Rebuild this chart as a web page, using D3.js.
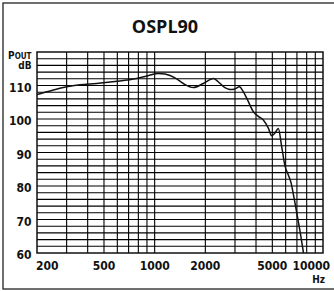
<!DOCTYPE html>
<html>
<head>
<meta charset="utf-8">
<script src="https://cdn.jsdelivr.net/npm/d3@7"></script>
<style>
  body { margin: 0; background: #fff; }
  svg text { font-family: "Liberation Sans Narrow", "DejaVu Sans Condensed", sans-serif; font-weight: bold; fill: #111; }
</style>
</head>
<body>
<svg id="chart"></svg>
<script>
// curve: frequency (Hz) and output level (dB)
const freqs = [200, 245, 300, 360, 452, 581, 782, 913, 1051, 1152, 1321, 1479, 1701, 1945,
  2237, 2377, 2557, 2803, 2961, 3192, 3348, 3561, 3855, 4128, 4421, 4734, 4960, 5187,
  5427, 5685, 5945, 6197, 6456, 6726, 7009, 7302, 7659];
const levels = [107.3, 108.5, 109.6, 110.2, 110.6, 111.2, 112.1, 112.9, 113.6, 113.4, 112.3, 110.6, 109.4, 110.6,
  112.1, 111.2, 109.7, 108.8, 108.9, 109.6, 108.3, 105.7, 102.2, 100.8, 99.7, 97.3, 95.0, 95.8,
  97.2, 91.7, 86.0, 83.5, 81.0, 76.5, 71.5, 66.5, 60];

const xTicks = [200, 500, 1000, 2000, 5000, 10000];
const yTicks = [60, 70, 80, 90, 100, 110];
const xGrid = [300, 400, 500, 600, 700, 800, 900, 1000, 2000, 3000, 4000, 5000, 6000, 7000, 8000, 9000];

const width = 334, height = 291;
const margin = { top: 52, right: 11, bottom: 38, left: 37 };

const svg = d3.select("#chart")
  .attr("width", width)
  .attr("height", height);

const x = d3.scaleLog()
  .domain([200, 10000])
  .range([margin.left, width - margin.right]);

const y = d3.scaleLinear()
  .domain([60, 120])
  .range([height - margin.bottom, margin.top]);

// outer frame (runs off the right edge like the original)
svg.append("rect")
  .attr("x", 3).attr("y", 3)
  .attr("width", 345).attr("height", 286)
  .attr("fill", "none")
  .attr("stroke", "#333")
  .attr("stroke-width", 1.4);

svg.append("text")
  .attr("x", 165).attr("y", 33)
  .attr("text-anchor", "middle")
  .style("font-family", "'Open Sans', sans-serif")
  .style("font-size", "18px")
  .text("OSPL90");

// grid
const grid = svg.append("g").attr("stroke", "#000").attr("stroke-width", 1.1);

grid.selectAll("line.h")
  .data(d3.range(62, 120, 2))
  .join("line")
  .attr("x1", margin.left).attr("x2", width - margin.right)
  .attr("y1", d => y(d)).attr("y2", d => y(d));

grid.selectAll("line.v")
  .data(xGrid)
  .join("line")
  .attr("x1", d => x(d)).attr("x2", d => x(d))
  .attr("y1", margin.top).attr("y2", height - margin.bottom);

svg.append("rect")
  .attr("x", margin.left).attr("y", margin.top)
  .attr("width", width - margin.left - margin.right)
  .attr("height", height - margin.top - margin.bottom)
  .attr("fill", "none")
  .attr("stroke", "#111")
  .attr("stroke-width", 1.5);

// curve
const line = d3.line()
  .x((d, i) => x(d))
  .y((d, i) => y(levels[i]))
  .curve(d3.curveMonotoneX);

svg.append("path")
  .datum(freqs)
  .attr("d", line)
  .attr("fill", "none")
  .attr("stroke", "#111")
  .attr("stroke-width", 1.5);

// y labels
svg.append("g")
  .selectAll("text")
  .data(yTicks)
  .join("text")
  .attr("x", 31.5)
  .attr("y", d => y(d) + 6)
  .attr("text-anchor", "end")
  .style("font-size", "12px")
  .text(d => d);

const pout = svg.append("text")
  .attr("x", 31.5).attr("y", 59)
  .attr("text-anchor", "end");
pout.append("tspan").style("font-size", "10px").text("P");
pout.append("tspan").style("font-size", "8px").text("OUT");

svg.append("text")
  .attr("x", 31.5).attr("y", 68.5)
  .attr("text-anchor", "end")
  .style("font-size", "10px")
  .text("dB");

// x labels
svg.append("g")
  .selectAll("text")
  .data(xTicks)
  .join("text")
  .attr("x", (d, i) => i === 0 ? x(d) - 1 : (i === xTicks.length - 1 ? x(d) + 7 : x(d)))
  .attr("y", 270)
  .attr("text-anchor", (d, i) => i === 0 ? "start" : (i === xTicks.length - 1 ? "end" : "middle"))
  .style("font-size", "12px")
  .text(d => d);

svg.append("text")
  .attr("x", 325).attr("y", 283)
  .attr("text-anchor", "end")
  .style("font-size", "10px")
  .text("Hz");
</script>
</body>
</html>
